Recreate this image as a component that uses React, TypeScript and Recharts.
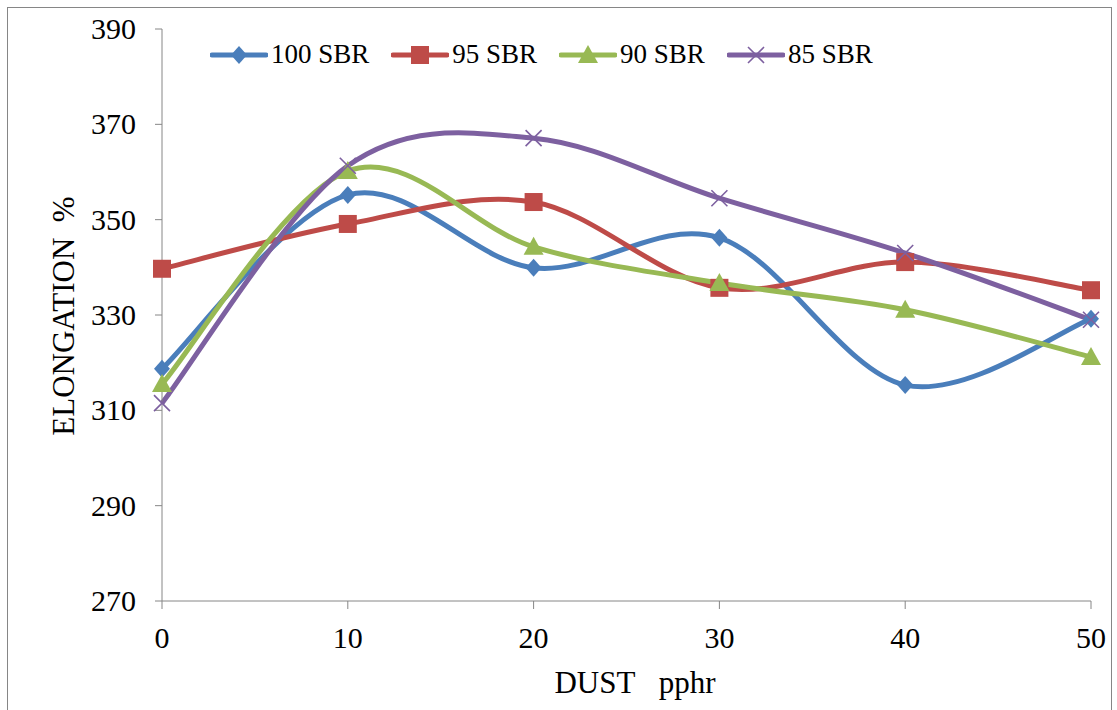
import React from 'react';
import { LineChart, Line, XAxis, YAxis } from 'recharts';

// DUST loading (pphr) and elongation % for each SBR blend
const dust = [0, 10, 20, 30, 40, 50];
const sbr100 = [318.7, 355.2, 339.9, 346.2, 315.3, 329.2];
const sbr95 = [339.7, 349.1, 353.7, 335.7, 341.1, 335.2];
const sbr90 = [315.5, 360.2, 344.3, 336.7, 331.1, 321.2];
const sbr85 = [311.5, 361.3, 367.1, 354.5, 343.0, 329.0];
const yTicks = [270, 290, 310, 330, 350, 370, 390];

const chartData = dust.map((d, i) => ({
  dust: d,
  s100: sbr100[i],
  s95: sbr95[i],
  s90: sbr90[i],
  s85: sbr85[i],
}));

const FONT = '"Liberation Serif", "Times New Roman", serif';
const AXIS = '#868686';

// Catmull-Rom style smoothing like Excel's "smoothed line"
const smoothCurve = (context: any) => {
  let pts: number[][] = [];
  return {
    areaStart() {},
    areaEnd() {},
    lineStart() { pts = []; },
    point(x: number, y: number) { pts.push([+x, +y]); },
    lineEnd() {
      if (!pts.length) return;
      context.moveTo(pts[0][0], pts[0][1]);
      for (let i = 0; i < pts.length - 1; i++) {
        const p0 = pts[i - 1] || pts[i];
        const p1 = pts[i];
        const p2 = pts[i + 1];
        const p3 = pts[i + 2] || p2;
        context.bezierCurveTo(
          p1[0] + (p2[0] - p0[0]) / 6, p1[1] + (p2[1] - p0[1]) / 6,
          p2[0] - (p3[0] - p1[0]) / 6, p2[1] - (p3[1] - p1[1]) / 6,
          p2[0], p2[1]
        );
      }
    },
  };
};

const Marker = ({ shape, color, cx, cy }: any) => {
  if (cx == null || cy == null) return null;
  if (shape === 'diamond') {
    return <path d={`M${cx},${cy - 9}L${cx + 8},${cy}L${cx},${cy + 9}L${cx - 8},${cy}Z`} fill={color} />;
  }
  if (shape === 'square') {
    return <rect x={cx - 9} y={cy - 9} width={18} height={18} fill={color} />;
  }
  if (shape === 'triangle') {
    return <path d={`M${cx},${cy - 10}L${cx + 10},${cy + 8}L${cx - 10},${cy + 8}Z`} fill={color} />;
  }
  return (
    <path d={`M${cx - 8},${cy - 8}L${cx + 8},${cy + 8}M${cx + 8},${cy - 8}L${cx - 8},${cy + 8}`} stroke={color} strokeWidth={1.6} fill="none" />
  );
};

const seriesDefs = [
  { key: 's100', name: '100 SBR', color: '#4A7EBB', shape: 'diamond' },
  { key: 's95', name: '95 SBR', color: '#BE4B48', shape: 'square' },
  { key: 's90', name: '90 SBR', color: '#98B954', shape: 'triangle' },
  { key: 's85', name: '85 SBR', color: '#7D60A0', shape: 'x' },
];

const XTick = ({ x, y, payload }: any) => (
  <text x={x} y={y + 39} textAnchor="middle" fill="#000" fontSize={30} fontFamily={FONT}>
    {payload.value}
  </text>
);

const YTick = ({ x, y, payload }: any) => (
  <text x={x - 1} y={y + 10} textAnchor="end" fill="#000" fontSize={30} fontFamily={FONT}>
    {payload.value}
  </text>
);

export default function App() {
  return (
    <div style={{ position: 'absolute', left: 0, top: 0, width: 1117, height: 710, background: '#fff', overflow: 'hidden' }}>
      <div style={{ position: 'absolute', left: 7, top: 7, width: 1103, height: 720, border: `1px solid ${AXIS}` }} />
      <div style={{ position: 'absolute', left: 0, top: 0 }}>
        <LineChart width={1117} height={710} data={chartData} margin={{ top: 29, right: 26, left: 102, bottom: 49 }}>
          <XAxis
            dataKey="dust"
            type="number"
            domain={[0, 50]}
            ticks={dust}
            stroke={AXIS}
            tickSize={8}
            tickMargin={0}
            height={60}
            tick={<XTick />}
          />
          <YAxis
            domain={[270, 390]}
            ticks={yTicks}
            stroke={AXIS}
            tickSize={7}
            tickMargin={18}
            width={60}
            tick={<YTick />}
          />
          {seriesDefs.map((s) => (
            <Line
              key={s.key}
              dataKey={s.key}
              name={s.name}
              type={smoothCurve as any}
              stroke={s.color}
              strokeWidth={5}
              dot={(p: any) => <Marker key={`${s.key}-${p.index}`} shape={s.shape} color={s.color} cx={p.cx} cy={p.cy} />}
              activeDot={false}
              isAnimationActive={false}
            />
          ))}
          <text x={635} y={693} textAnchor="middle" fill="#000" fontSize={31} fontFamily={FONT}>
            {'DUST\u00a0\u00a0\u00a0pphr'}
          </text>
          <text x={0} y={0} transform="translate(74,316) rotate(-90)" textAnchor="middle" fill="#000" fontSize={31} fontFamily={FONT}>
            {'ELONGATION\u00a0\u00a0%'}
          </text>
        </LineChart>
      </div>
      <div style={{ position: 'absolute', left: 210, top: 39, display: 'flex', fontFamily: FONT, fontSize: 27, color: '#000' }}>
        {seriesDefs.map((s) => (
          <div key={s.key} style={{ display: 'flex', alignItems: 'center', marginRight: 22 }}>
            <svg width={58} height={30}>
              <line x1={2} y1={15} x2={56} y2={15} stroke={s.color} strokeWidth={5} strokeLinecap="round" />
              <Marker shape={s.shape} color={s.color} cx={29} cy={15} />
            </svg>
            <span style={{ marginLeft: 3 }}>{s.name}</span>
          </div>
        ))}
      </div>
    </div>
  );
}
